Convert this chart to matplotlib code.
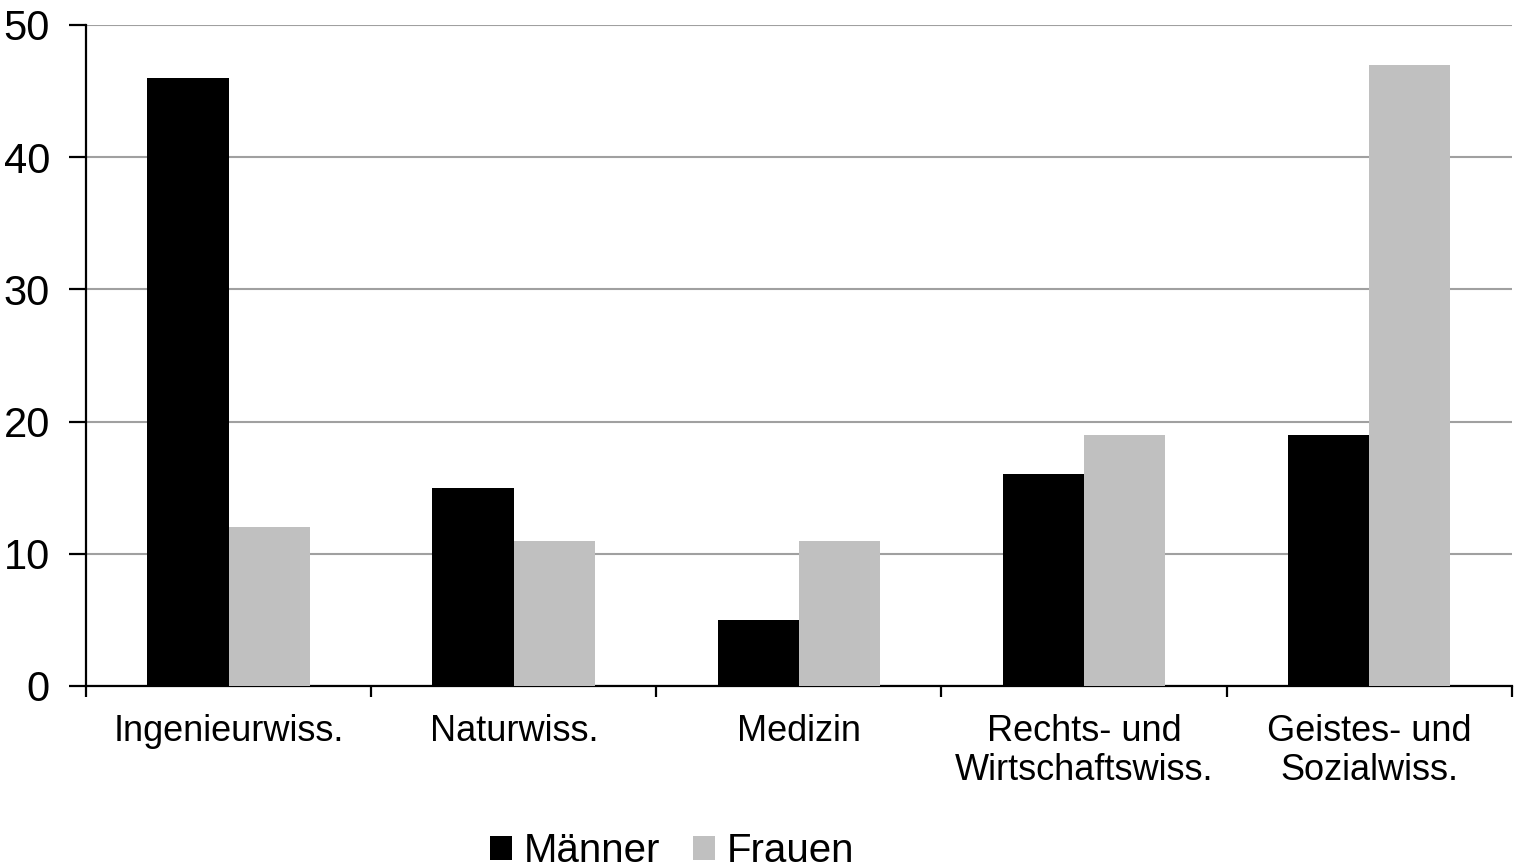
import numpy as np
import matplotlib.pyplot as plt

plt.rcParams['font.family'] = ['Liberation Sans', 'DejaVu Sans']

categories = ["Ingenieurwiss.", "Naturwiss.", "Medizin",
              "Rechts- und\nWirtschaftswiss.", "Geistes- und\nSozialwiss."]
maenner = [46, 15, 5, 16, 19]
frauen = [12, 11, 11, 19, 47]

fig = plt.figure(figsize=(15.2, 8.68), dpi=100)
ax = fig.add_axes([0.0566, 0.2097, 0.938, 0.7615])

x = np.arange(len(categories))
w = 0.285
ax.bar(x - w / 2, maenner, width=w, color="black", label="Männer", zorder=3)
ax.bar(x + w / 2, frauen, width=w, color="#c0c0c0", label="Frauen", zorder=3)

ax.set_xlim(-0.5, len(categories) - 0.5)
ax.set_ylim(0, 50)
ax.set_yticks(range(0, 51, 10))
ax.yaxis.grid(True, color="#a0a0a0", linewidth=1.5, zorder=0)

for s in ["top", "right"]:
    ax.spines[s].set_visible(False)
ax.spines["left"].set_linewidth(1.6)
ax.spines["bottom"].set_linewidth(1.6)

ax.set_xticks(np.arange(-0.5, len(categories), 1.0))
ax.set_xticklabels([])
ax.set_xticks(x, minor=True)
ax.set_xticklabels(categories, minor=True, fontsize=26, linespacing=1.15)
ax.tick_params(axis="x", which="major", length=8, width=1.6, direction="out")
ax.tick_params(axis="x", which="minor", length=0, pad=20)
ax.tick_params(axis="y", length=12, width=1.6, labelsize=30, pad=14)

ax.legend(loc="center", bbox_to_anchor=(0.411, -0.25), ncol=2, frameon=False,
          fontsize=29, handlelength=0.55, handleheight=0.55, handletextpad=0.3,
          columnspacing=0.8)

fig.savefig("out.png", dpi=100)
